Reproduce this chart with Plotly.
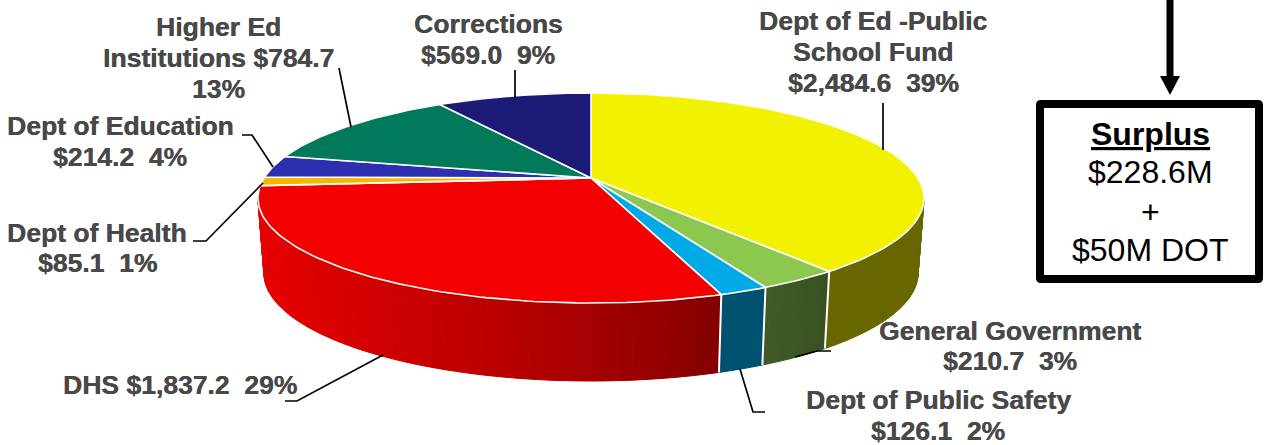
import math
import plotly.graph_objects as go

# ---- data ----
slice_names = ["Dept of Ed -Public School Fund", "General Government", "Dept of Public Safety",
               "DHS", "Dept of Health", "Dept of Education", "Higher Ed Institutions", "Corrections"]
slice_values = [2484.6, 210.7, 126.1, 1837.2, 85.1, 214.2, 784.7, 569.0]
top_colors = ["#F2F200", "#8CC850", "#00AAE6", "#F40000", "#F5B800", "#2E2EB0", "#007A5A", "#1C1C78"]
side_right_colors = ["#686600", "#385020", "#005070", "#800000", "#F5B800", "#2E2EB0", "#007A5A", "#1C1C78"]
side_left_colors = ["#686600", "#3F5A28", "#005070", "#E60000", "#F5B800", "#2E2EB0", "#007A5A", "#1C1C78"]

label_lines = [
    ("Dept of Ed -Public", 873, 21), ("School Fund", 873, 52), ("$2,484.6  39%", 873, 83),
    ("Corrections", 488, 24), ("$569.0  9%", 488, 55),
    ("Higher Ed", 218, 27), ("Institutions $784.7", 218, 58), ("13%", 218, 89),
    ("Dept of Education", 120, 126), ("$214.2  4%", 120, 157),
    ("Dept of Health", 97, 233), ("$85.1  1%", 97, 263),
    ("DHS $1,837.2  29%", 180, 385),
    ("General Government", 1010, 331), ("$210.7  3%", 1010, 361),
    ("Dept of Public Safety", 938, 400), ("$126.1  2%", 938, 431),
]
box_lines = [("<b><u>Surplus</u></b>", 134), ("$228.6M", 172), ("+", 212), ("$50M DOT", 250)]
leaders = [
    ([883, 883], [103, 150]),
    ([515, 515], [70, 98]),
    ([339, 351], [68, 127]),
    ([242, 252, 273], [135, 135, 167]),
    ([193, 206, 263], [241, 241, 183]),
    ([285, 297, 383], [401, 401, 355]),
    ([795, 817, 831], [357, 351, 351]),
    ([740, 753, 765], [369, 412, 412]),
]

# ---- pie geometry (perspective projection of a disc) ----
CX, CY = 591.0, 178.0
PERSP, A_Y, D_X = 0.1905, 101.2, 327.0
MID_Y, BOT_MID_Y, BOT_SX, BOT_SY = 198.0, 273.0, 327 / 333, 108 / 105
FRONT_START, FRONT_END = 101.0, 259.0


def top_pt(deg):
    t = math.radians(deg)
    u, v = math.sin(t), math.cos(t)
    d = 1 + PERSP * v
    return CX + D_X * u / d, CY - A_Y * v / d


def bot_pt(deg):
    x, y = top_pt(deg)
    return CX + (x - CX) * BOT_SX, BOT_MID_Y + (y - MID_Y) * BOT_SY


def angles(a, b, step=1.0):
    n = max(2, int(abs(b - a) / step) + 1)
    return [a + (b - a) * i / (n - 1) for i in range(n)]


def mix(c1, c2, f):
    p = [int(c1[i:i + 2], 16) for i in (1, 3, 5)]
    q = [int(c2[i:i + 2], 16) for i in (1, 3, 5)]
    return "rgb(%d,%d,%d)" % tuple(round(p[i] + (q[i] - p[i]) * f) for i in range(3))


total = sum(slice_values)
edges = [0.0]
for val in slice_values:
    edges.append(edges[-1] + val / total * 360)

fig = go.Figure()


def poly(xs, ys, fill, line=None, width=0):
    fig.add_trace(go.Scatter(x=xs, y=ys, mode="lines", fill="toself", fillcolor=fill,
                             line=dict(color=line or fill, width=width or 1),
                             hoverinfo="skip", showlegend=False))


def stroke(xs, ys, color, width):
    fig.add_trace(go.Scatter(x=xs, y=ys, mode="lines", line=dict(color=color, width=width),
                             hoverinfo="skip", showlegend=False))


# side wall, strip by strip
for i in range(len(slice_values)):
    a, b = max(edges[i], FRONT_START), min(edges[i + 1], FRONT_END)
    if a >= b:
        continue
    angs = angles(a, b, 1.0)
    xa = top_pt(a)[0]
    xb = top_pt(b)[0]
    for p, q in zip(angs[:-1], angs[1:]):
        xm = top_pt((p + q) / 2)[0]
        f = ((xa - xm) / (xa - xb)) ** 0.8
        c = mix(side_right_colors[i], side_left_colors[i], f)
        t1, t2, b2, b1 = top_pt(p), top_pt(q), bot_pt(q), bot_pt(p)
        poly([t1[0], t2[0], b2[0], b1[0], t1[0]], [t1[1], t2[1], b2[1], b1[1], t1[1]], c)

# white separators on the wall
for e in edges:
    if FRONT_START < e < FRONT_END:
        t, u = top_pt(e), bot_pt(e)
        stroke([t[0], u[0]], [t[1], u[1]], "#FFFFFF", 2)

# top face
for i in range(len(slice_values)):
    pts = [top_pt(d) for d in angles(edges[i], edges[i + 1])]
    xs = [CX] + [p[0] for p in pts] + [CX]
    ys = [CY] + [p[1] for p in pts] + [CY]
    poly(xs, ys, top_colors[i], "#FFFFFF", 1.6)

# leader lines
for lx, ly in leaders:
    stroke(lx, ly, "#000000", 1.7)

annotations = []
for text, x, y in label_lines:
    annotations.append(dict(x=x, y=y, xref="x", yref="y", showarrow=False, xanchor="center", yanchor="middle",
                            text="<b>%s</b>" % text.replace("  ", "\u00a0\u00a0"),
                            font=dict(family="Liberation Sans", size=26.5, color="#484848",
                                      shadow="0.35px 0 0 #484848")))
for text, y in box_lines:
    annotations.append(dict(x=1150, y=y, xref="x", yref="y", showarrow=False, xanchor="center", yanchor="middle",
                            text=text, font=dict(family="Liberation Sans", size=32, color="#000000")))

shapes = [
    dict(type="path", xref="x", yref="y",
         path="M1041,104 L1258,104 Q1259,104 1259,105 L1259,278 Q1259,279 1258,279 "
              "L1041,279 Q1040,279 1040,278 L1040,105 Q1040,104 1041,104 Z",
         line=dict(color="#000000", width=8), fillcolor="#FFFFFF"),
    dict(type="line", xref="x", yref="y", x0=1170, x1=1170, y0=0, y1=78,
         line=dict(color="#000000", width=7)),
    dict(type="path", xref="x", yref="y", path="M1160,76 L1180,76 L1170,95 Z",
         line=dict(color="#000000", width=0), fillcolor="#000000"),
]

fig.update_layout(
    width=1265, height=445, autosize=False,
    margin=dict(l=0, r=0, t=0, b=0),
    paper_bgcolor="#FFFFFF", plot_bgcolor="#FFFFFF",
    showlegend=False, annotations=annotations, shapes=shapes,
    xaxis=dict(range=[0, 1265], visible=False, fixedrange=True),
    yaxis=dict(range=[445, 0], visible=False, fixedrange=True),
)
fig.write_html("out.html", config={"displayModeBar": False},
               post_script="document.body.style.margin='0';document.body.style.overflow='hidden';")
